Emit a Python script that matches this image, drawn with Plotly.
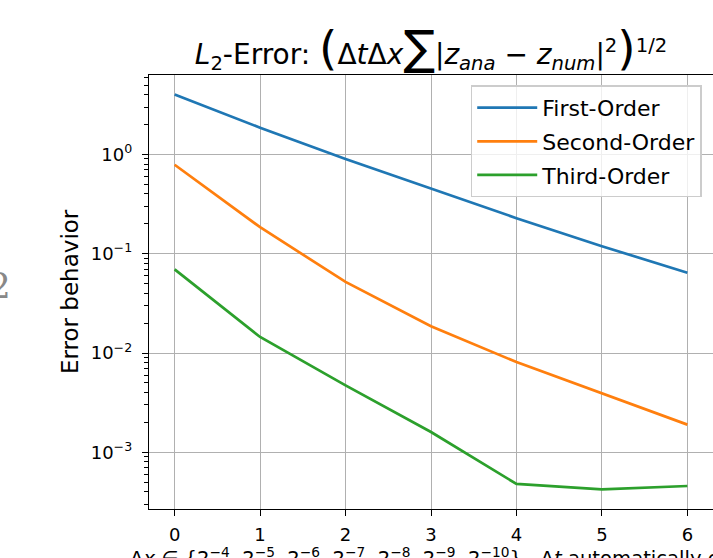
import plotly.graph_objects as go

steps = [0, 1, 2, 3, 4, 5, 6]
first_order = [4.02, 1.86, 0.90, 0.452, 0.228, 0.119, 0.0644]
second_order = [0.787, 0.185, 0.052, 0.0186, 0.0081, 0.0039, 0.0019]
third_order = [0.0695, 0.0145, 0.00472, 0.00160, 0.00048, 0.000424, 0.000458]
series_names = ["First-Order", "Second-Order", "Third-Order"]
series_colors = ["#1f77b4", "#ff7f0e", "#2ca02c"]
y_tick_vals = [1, 0.1, 0.01, 0.001]
y_tick_text = ["10<sup>0</sup>", "10<sup>−1</sup>", "10<sup>−2</sup>", "10<sup>−3</sup>"]
x_tick_vals = [0, 1, 2, 3, 4, 5, 6]

W, H = 713, 558
L, R, T, B = 149, 0, 75, 49
PW, PH = W - L - R, H - T - B

fig = go.Figure()
for name, vals, col in zip(series_names, [first_order, second_order, third_order], series_colors):
    fig.add_trace(go.Scatter(x=steps, y=vals, mode="lines", name=name, legendgroup=name,
                             line=dict(color=col, width=2.7)))

font = "DejaVu Sans, Arial, sans-serif"
big = "<span style='font-size:47px'>{}</span>"
fig.update_layout(
    width=W, height=H,
    margin=dict(l=L, r=R, t=T, b=B, pad=0, autoexpand=False),
    paper_bgcolor="white", plot_bgcolor="white",
    font=dict(family=font, size=18, color="black"),
    title=dict(
        text="<i>L</i><sub>2</sub>-Error: " + big.format("(") + "Δ<i>t</i>Δ<i>x</i>"
             + big.format("∑") + "|<i>z</i><sub><i>ana</i></sub> − "
             "<i>z</i><sub><i>num</i></sub>|<sup>2</sup>" + big.format(")") + "<sup>1/2</sup>",
        x=(L + PW / 2) / W, xanchor="center", xref="container",
        y=1 - 54 / H, yanchor="middle", yref="container",
        font=dict(size=28, family=font),
    ),
    legend=dict(
        x=0.98, y=0.976, xanchor="right", yanchor="top",
        bgcolor="rgba(255,255,255,0.8)", bordercolor="#cccccc", borderwidth=1.5,
        font=dict(size=22, family=font), tracegroupgap=2, itemwidth=60,
    ),
    showlegend=True,
)
fig.update_xaxes(
    range=[-0.3, 6.3], tickvals=x_tick_vals, ticks="outside", ticklen=6, tickwidth=1.3,
    tickcolor="black", showline=True, linecolor="black", linewidth=1.4, mirror=True,
    showgrid=True, gridcolor="#b0b0b0", gridwidth=1.3, zeroline=False, automargin=False,
    tickfont=dict(size=18, family=font), ticklabelstandoff=3,
)
fig.update_yaxes(
    type="log", range=[-3.571, 0.80], tickvals=y_tick_vals, ticktext=y_tick_text,
    ticks="outside", ticklen=6, tickwidth=1.3, tickcolor="black",
    showline=True, linecolor="black", linewidth=1.4, mirror=False, automargin=False,
    showgrid=True, gridcolor="#b0b0b0", gridwidth=1.3, zeroline=False,
    tickfont=dict(size=18, family=font), ticklabelstandoff=6,
    minor=dict(dtick="D1", ticks="outside", ticklen=3.5, tickwidth=1, tickcolor="black", showgrid=False),
)
fig.add_annotation(text="Error behavior", textangle=-90, xref="paper", yref="paper",
                   x=(70 - L) / PW, y=0.5, xanchor="center", yanchor="middle",
                   showarrow=False, font=dict(size=23, family=font))
fig.add_annotation(
    text="Δ<i>x</i> ∈ {2<sup>−4</sup>, 2<sup>−5</sup>, 2<sup>−6</sup>, 2<sup>−7</sup>, 2<sup>−8</sup>, "
         "2<sup>−9</sup>, 2<sup>−10</sup>},  Δ<i>t</i> automatically chosen",
    xref="paper", yref="paper", x=(128 - L) / PW, xanchor="left",
    y=(H - B - 542) / PH, yanchor="top", showarrow=False,
    font=dict(size=19.6, family=font))
fig.add_annotation(text="2", xref="paper", yref="paper", x=(-1 - L) / PW, xanchor="center",
                   y=(H - B - 285) / PH, yanchor="middle", showarrow=False,
                   font=dict(size=36, family="DejaVu Serif, serif", color="#888888"))

fig.write_html("out.html", config={"displayModeBar": False},
               post_script="document.body.style.margin='0px';")
